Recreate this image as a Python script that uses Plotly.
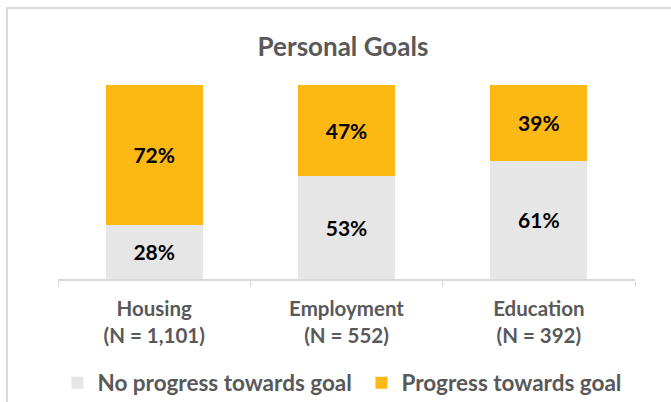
import plotly.graph_objects as go

categories = ["Housing<br>(N = 1,101)", "Employment<br>(N = 552)", "Education<br>(N = 392)"]
no_progress = [28, 53, 61]
progress = [72, 47, 39]

font = "Lato, Calibri, sans-serif"
gray_text = "#595959"
line_col = "#D9D9D9"

fig = go.Figure()
fig.add_trace(go.Bar(name="No progress towards goal", x=categories, y=no_progress,
                     text=[f"{v}%" for v in no_progress], marker_color="#E6E6E6"))
fig.add_trace(go.Bar(name="Progress towards goal", x=categories, y=progress,
                     text=[f"{v}%" for v in progress], marker_color="#FDB913"))
fig.update_traces(textposition="inside", insidetextanchor="middle",
                  textfont=dict(family=font, size=21, color="black", weight="bold"),
                  marker_line_width=0, hoverinfo="skip")

# plot area: x 58..635, y 85..279 px
fig.update_layout(
    barmode="stack", bargap=0.497,
    width=671, height=402, autosize=False,
    margin=dict(l=58, r=36, t=85, b=123, autoexpand=False),
    paper_bgcolor="white", plot_bgcolor="white",
    title=dict(text="<b>Personal Goals</b>", x=343 / 671, xanchor="center",
               y=1 - 47 / 402, yanchor="middle",
               font=dict(family=font, size=26, color=gray_text)),
    legend=dict(orientation="h", x=-0.001, xanchor="left",
                y=(279 - 383) / 194, yanchor="middle",
                font=dict(family=font, size=22.5, color=gray_text, weight="bold"),
                traceorder="normal", itemwidth=30, entrywidth=259),
    showlegend=True,
    uniformtext=dict(mode="show", minsize=10),
)
fig.update_xaxes(showline=True, linecolor=line_col, linewidth=1.5, automargin=False,
                 ticks="outside", tickson="boundaries", ticklen=6, tickcolor=line_col,
                 ticklabelstandoff=11,
                 tickfont=dict(family=font, size=20.5, color=gray_text, weight="bold"))
fig.update_yaxes(range=[0, 100], visible=False, showgrid=False, automargin=False)

# chart border
fig.add_shape(type="rect", xref="paper", yref="paper",
              x0=(7 - 58) / 577, x1=(690 - 58) / 577,
              y0=(279 - 420) / 194, y1=(279 - 8) / 194,
              line=dict(color=line_col, width=2), layer="below")

fig.write_html("out.html", config={"displayModeBar": False},
               post_script="document.body.style.margin='0';")
